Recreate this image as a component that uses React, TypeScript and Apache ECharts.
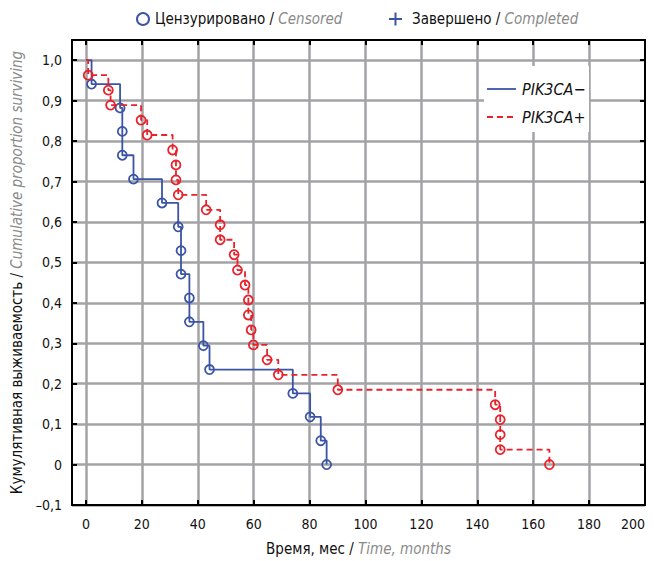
import React, { useEffect, useRef } from "react";
import * as echarts from "echarts";

const blueX = [0, 2, 12.2, 13, 13, 17, 27.2, 33, 34, 34, 37, 37, 42, 44.2, 74, 80.2, 84, 86.1];
const blueY = [1, 0.941, 0.882, 0.824, 0.765, 0.706, 0.647, 0.588, 0.529, 0.471, 0.412, 0.353, 0.294, 0.235, 0.176, 0.118, 0.059, 0];

const redX = [0, 0.8, 8, 8.8, 19.7, 21.9, 31, 32.2, 32.2, 33, 43, 48, 48, 53, 54.2, 56.9, 58.1, 58.1, 59.1, 59.9, 64.8, 68.8, 90.1, 146.4, 148.2, 148.2, 148.2, 165.8];
const redY = [1, 0.963, 0.926, 0.889, 0.852, 0.815, 0.778, 0.741, 0.704, 0.667, 0.63, 0.593, 0.556, 0.519, 0.481, 0.444, 0.407, 0.37, 0.333, 0.296, 0.259, 0.222, 0.185, 0.148, 0.111, 0.074, 0.037, 0];

const xTicks = [0, 20, 40, 60, 80, 100, 120, 140, 160, 180, 200];
const yTicks = [-0.1, 0, 0.1, 0.2, 0.3, 0.4, 0.5, 0.6, 0.7, 0.8, 0.9, 1.0];

const seriesNames = ["PIK3CA\u2212", "PIK3CA+"];

const BLUE = "#3b54a6";
const RED = "#e8212b";
const GRIDC = "#a3a3a6";
const FONT = "'Liberation Sans Narrow', 'DejaVu Sans Condensed', 'Roboto Condensed', sans-serif";

const fmtY = (v: number) => {
  const r = Math.round(v * 10) / 10;
  if (Math.abs(r) < 1e-9) return "0";
  const s = Math.abs(r).toFixed(1).replace(".", ",");
  return r < 0 ? "\u2013" + s : s;
};

export default function App() {
  const ref = useRef<HTMLDivElement>(null);
  useEffect(() => {
    if (!ref.current) return;
    const chart = echarts.init(ref.current, null, { renderer: "svg" });
    const mk = (xs: number[], ys: number[]) => xs.map((x, i) => [x, ys[i]]);
    const symFn = (_v: any, p: any) => (p.dataIndex === 0 ? "none" : "circle");
    const option: any = {
      animation: false,
      backgroundColor: "#fff",
      textStyle: { fontFamily: FONT },
      grid: { left: 72, right: 9, top: 40, bottom: 51, containLabel: false },
      xAxis: [
        {
          type: "value",
          min: -5,
          max: 200,
          axisLine: { show: true, onZero: false, lineStyle: { color: "#000", width: 2 } },
          axisTick: { show: true, inside: true, length: 5, customValues: xTicks, lineStyle: { color: "#000", width: 2 } },
          axisLabel: {
            customValues: xTicks,
            color: "#111",
            fontSize: 14,
            fontFamily: FONT,
            margin: 12,
            alignMaxLabel: "right",
          },
          splitLine: { show: true, lineStyle: { color: GRIDC, width: 2.5 } },
          name: "{a|\u0412\u0440\u0435\u043c\u044f, \u043c\u0435\u0441 / }{b|Time, months}",
          nameLocation: "middle",
          nameGap: 36,
          nameTextStyle: {
            rich: {
              a: { fontSize: 15, color: "#111", fontFamily: FONT },
              b: { fontSize: 15, color: "#8a8a8a", fontStyle: "italic", fontFamily: FONT },
            },
          },
        },
        {
          type: "value",
          position: "top",
          min: -5,
          max: 200,
          axisLine: { show: true, onZero: false, lineStyle: { color: "#000", width: 2 } },
          axisTick: { show: true, inside: true, length: 5, customValues: xTicks, lineStyle: { color: "#000", width: 2 } },
          axisLabel: { show: false },
          splitLine: { show: false },
        },
      ],
      yAxis: [
        {
          type: "value",
          min: -0.1,
          max: 1.05,
          axisLine: { show: true, onZero: false, lineStyle: { color: "#000", width: 2 } },
          axisTick: { show: true, inside: true, length: 5, customValues: yTicks, lineStyle: { color: "#000", width: 2 } },
          axisLabel: { customValues: yTicks, color: "#111", fontSize: 14, fontFamily: FONT, margin: 10, formatter: fmtY },
          splitLine: { show: true, lineStyle: { color: GRIDC, width: 2.5 } },
          name: "{a|\u041a\u0443\u043c\u0443\u043b\u044f\u0442\u0438\u0432\u043d\u0430\u044f \u0432\u044b\u0436\u0438\u0432\u0430\u0435\u043c\u043e\u0441\u0442\u044c / }{b|Cumulative proportion surviving}",
          nameLocation: "middle",
          nameRotate: 90,
          nameGap: 46,
          nameTextStyle: {
            rich: {
              a: { fontSize: 15, color: "#111", fontFamily: FONT },
              b: { fontSize: 15, color: "#8a8a8a", fontStyle: "italic", fontFamily: FONT },
            },
          },
        },
        {
          type: "value",
          position: "right",
          min: -0.1,
          max: 1.05,
          axisLine: { show: true, onZero: false, lineStyle: { color: "#000", width: 2 } },
          axisTick: { show: true, inside: true, length: 5, customValues: yTicks, lineStyle: { color: "#000", width: 2 } },
          axisLabel: { show: false },
          splitLine: { show: false },
        },
      ],
      series: [
        {
          name: seriesNames[0],
          type: "line",
          step: "end",
          data: mk(blueX, blueY),
          symbol: symFn,
          symbolSize: 9,
          showAllSymbol: true,
          lineStyle: { color: BLUE, width: 1.8 },
          itemStyle: { color: "rgba(255,255,255,0)", borderColor: BLUE, borderWidth: 1.8 },
          z: 3,
        },
        {
          name: seriesNames[1],
          type: "line",
          step: "end",
          data: mk(redX, redY),
          symbol: symFn,
          symbolSize: 9,
          showAllSymbol: true,
          lineStyle: { color: RED, width: 1.8, type: [6, 4] },
          itemStyle: { color: "rgba(255,255,255,0)", borderColor: RED, borderWidth: 1.8 },
          z: 4,
        },
      ],
      graphic: [
        // top legend
        { type: "circle", shape: { cx: 143, cy: 19, r: 6 }, style: { fill: "none", stroke: BLUE, lineWidth: 2 } },
        {
          type: "text",
          x: 155,
          y: 19,
          style: {
            text: "{a|\u0426\u0435\u043d\u0437\u0443\u0440\u0438\u0440\u043e\u0432\u0430\u043d\u043e / }{b|Censored}",
            verticalAlign: "middle",
            rich: {
              a: { fontSize: 15, fill: "#111", fontFamily: FONT },
              b: { fontSize: 15, fill: "#8a8a8a", fontStyle: "italic", fontFamily: FONT },
            },
          },
        },
        { type: "line", shape: { x1: 389, y1: 19, x2: 402, y2: 19 }, style: { stroke: BLUE, lineWidth: 2 } },
        { type: "line", shape: { x1: 395.5, y1: 12.5, x2: 395.5, y2: 25.5 }, style: { stroke: BLUE, lineWidth: 2 } },
        {
          type: "text",
          x: 412,
          y: 19,
          style: {
            text: "{a|\u0417\u0430\u0432\u0435\u0440\u0448\u0435\u043d\u043e / }{b|Completed}",
            verticalAlign: "middle",
            rich: {
              a: { fontSize: 15, fill: "#111", fontFamily: FONT },
              b: { fontSize: 15, fill: "#8a8a8a", fontStyle: "italic", fontFamily: FONT },
            },
          },
        },
        // inner legend
        { type: "rect", z: 10, shape: { x: 484, y: 66, width: 105, height: 66 }, style: { fill: "#fff" } },
        { type: "line", z: 11, shape: { x1: 487, y1: 89, x2: 516, y2: 89 }, style: { stroke: BLUE, lineWidth: 1.8 } },
        { type: "line", z: 11, shape: { x1: 487, y1: 117, x2: 516, y2: 117 }, style: { stroke: RED, lineWidth: 1.8, lineDash: [6, 4] } },
        {
          type: "text",
          z: 11,
          x: 522,
          y: 89,
          style: { text: seriesNames[0], fontSize: 16, fontStyle: "italic", fill: "#111", fontFamily: FONT, verticalAlign: "middle" },
        },
        {
          type: "text",
          z: 11,
          x: 522,
          y: 117,
          style: { text: seriesNames[1], fontSize: 16, fontStyle: "italic", fill: "#111", fontFamily: FONT, verticalAlign: "middle" },
        },
      ],
    };
    chart.setOption(option);
    return () => chart.dispose();
  }, []);
  return <div ref={ref} style={{ width: 654, height: 561, marginLeft: -8, marginTop: -8 }} />;
}
